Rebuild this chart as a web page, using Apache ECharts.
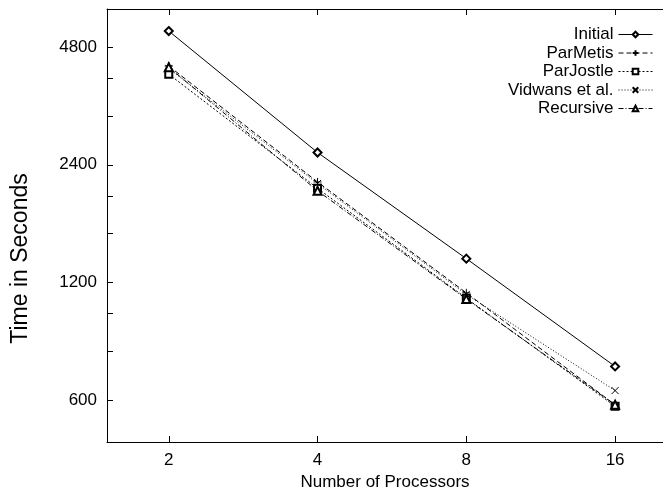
<!DOCTYPE html>
<html>
<head>
<meta charset="utf-8">
<script src="https://cdn.jsdelivr.net/npm/echarts@6/dist/echarts.min.js"></script>
<style>
html,body{margin:0;padding:0;background:#fff}
#chart{width:663px;height:490px}
</style>
</head>
<body>
<div id="chart"></div>
<script>
// processors on x, seconds on y (log-log)
var procs = [2, 4, 8, 16];
var initial = [5270, 2580, 1382, 733];
var parMetis = [4290, 2170, 1130, 585];
var parJostle = [4090, 2090, 1095, 580];
var vidwans = [4230, 2150, 1120, 636];
var recursive = [4260, 2060, 1090, 585];

var xTicks = [2, 4, 8, 16];
var yLabels = [600, 1200, 2400, 4800];
var yTicks = [600, 800, 1000, 1200, 1600, 2000, 2400, 3200, 4000, 4800];

var font = 'Liberation Sans';
var chart = echarts.init(document.getElementById('chart'));

function pairs(vals) {
  return procs.map(function (p, i) { return [p, vals[i]]; });
}

function mkSeries(name, vals, symbol, size, dash, pathSym) {
  return {
    name: name,
    type: 'line',
    data: pairs(vals),
    symbol: symbol,
    symbolSize: size,
    animation: false,
    lineStyle: { color: '#000', width: 1, type: dash },
    itemStyle: pathSym
      ? { color: 'transparent', borderColor: '#000', borderWidth: 1 }
      : { color: '#000', borderColor: '#000', borderWidth: 1 }
  };
}

var xBase = {
  type: 'log',
  logBase: 2,
  min: 1.5,
  max: 20,
  axisLine: { lineStyle: { color: '#000', width: 1 } },
  axisTick: { inside: true, length: 6, customValues: xTicks, lineStyle: { color: '#000' } },
  splitLine: { show: false }
};

var option = {
  backgroundColor: '#fff',
  animation: false,
  grid: { left: 107, right: 0, top: 9, bottom: 48, outerBoundsMode: 'none', containLabel: false },
  legend: {
    orient: 'vertical',
    right: 10,
    top: 26,
    padding: 0,
    align: 'right',
    itemWidth: 34,
    itemHeight: 7,
    itemGap: 1.5,
    lineStyle: { width: 1 },
    textStyle: { fontFamily: font, fontSize: 17, color: '#000' },
    data: ['Initial', 'ParMetis', 'ParJostle', 'Vidwans et al.', 'Recursive']
  },
  xAxis: [
    Object.assign({}, xBase, {
      position: 'bottom',
      name: 'Number of Processors',
      nameLocation: 'middle',
      nameGap: 25,
      nameTextStyle: { fontFamily: font, fontSize: 17, color: '#000' },
      axisLabel: { customValues: xTicks, margin: 10, fontFamily: font, fontSize: 17, color: '#000' }
    }),
    Object.assign({}, xBase, {
      position: 'top',
      axisLabel: { show: false }
    })
  ],
  yAxis: {
    type: 'log',
    logBase: 2,
    min: 470,
    max: 6000,
    name: 'Time in Seconds',
    nameLocation: 'middle',
    nameGap: 75,
    nameTextStyle: { fontFamily: font, fontSize: 23, color: '#000', padding: [0, 66, 0, 0] },
    axisLine: { lineStyle: { color: '#000', width: 1 } },
    axisTick: { inside: true, length: 6, customValues: yTicks, lineStyle: { color: '#000' } },
    axisLabel: {
      customValues: yLabels, margin: 10, fontFamily: font, fontSize: 17, color: '#000',
      formatter: function (v) { return String(v); }
    },
    splitLine: { show: false }
  },
  series: [
    mkSeries('Initial', initial, 'emptyDiamond', 8, 'solid', false),
    mkSeries('ParMetis', parMetis, 'path://M5,0V10M0,5H10', 8, [5, 3], true),
    mkSeries('ParJostle', parJostle, 'emptyRect', 7, [2, 2], false),
    mkSeries('Vidwans et al.', vidwans, 'path://M0,0L10,10M10,0L0,10', 7, [1, 2], true),
    mkSeries('Recursive', recursive, 'emptyTriangle', 8, [5, 2, 1, 2], false)
  ]
};

chart.setOption(option);
</script>
</body>
</html>
